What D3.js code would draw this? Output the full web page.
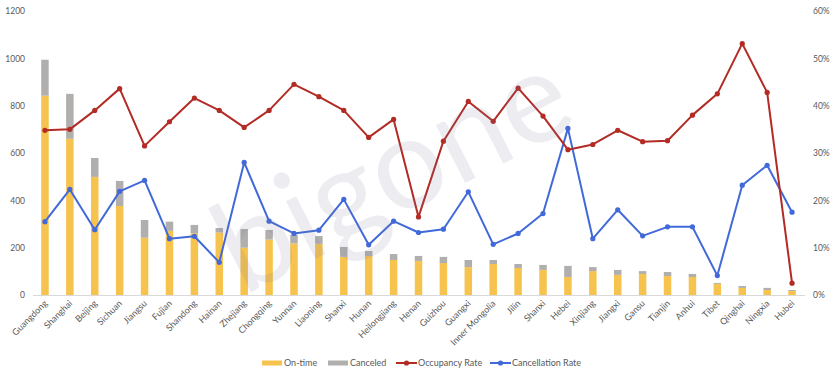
<!DOCTYPE html>
<html>
<head>
<meta charset="utf-8">
<script src="https://cdn.jsdelivr.net/npm/d3@7"></script>
<style>
  html, body { margin: 0; padding: 0; background: #fff; }
  svg { display: block; }
  text { font-family: Lato, "Open Sans", sans-serif; }
</style>
</head>
<body>
<svg id="chart" width="835" height="378"></svg>
<script>
const categories = ["Guangdong","Shanghai","Beijing","Sichuan","Jiangsu","Fujian","Shandong","Hainan","Zhejiang","Chongqing","Yunnan","Liaoning","Shanxi","Hunan","Heilongjiang","Henan","Guizhou","Guangxi","Inner Mongolia","Jilin","Shanxi","Hebei","Xinjiang","Jiangxi","Gansu","Tianjin","Anhui","Tibet","Qinghai","Ningxia","Hubei"];
const onTime   = [842,660,499,376,242,271,261,264,200,234,218,216,161,165,148,144,135,118,131,114,106,76,101,85,89,80,76,47,30,21,17];
const canceled = [152,190,80,106,75,39,35,19,79,41,36,33,42,21,25,21,26,30,17,17,21,47,17,21,12,17,13,4,8,9,4];
const occupancyRate    = [34.8,35.0,39.0,43.6,31.5,36.6,41.6,39.0,35.4,39.0,44.5,41.9,39.0,33.3,37.1,16.5,32.5,40.9,36.7,43.7,37.8,30.7,31.8,34.8,32.4,32.6,38.0,42.5,53.1,42.8,2.5];
const cancellationRate = [15.5,22.3,13.8,21.9,24.2,11.9,12.4,6.9,28.0,15.6,13.0,13.7,20.2,10.6,15.6,13.2,13.9,21.8,10.7,13.0,17.2,35.2,11.9,18.0,12.5,14.4,14.4,4.1,23.2,27.4,17.5];
const leftTicks  = [0,200,400,600,800,1000,1200];
const rightTicks = [0,10,20,30,40,50,60];
const legendLabels = ["On-time","Canceled","Occupancy Rate","Cancellation Rate"];

const colors = { onTime:"#F6C34F", canceled:"#B1AFAE", occ:"#B22B24", canc:"#4169D9", text:"#595959", axis:"#D9D9D9" };

const svg = d3.select("#chart");
const plotLeft = 32.5, plotRight = 804.5, plotTop = 11, plotBottom = 295;

const idx = d3.range(categories.length);
const x = d3.scaleBand().domain(idx).range([plotLeft, plotRight]);
const yL = d3.scaleLinear().domain([0,1200]).range([plotBottom, plotTop]);
const yR = d3.scaleLinear().domain([0,60]).range([plotBottom, plotTop]);
const barW = 7.5;
const cx = i => x(i) + x.bandwidth()/2;

// Bars
const g = svg.append("g");
g.selectAll("rect.on").data(idx).join("rect")
  .attr("x", i => cx(i) - barW/2).attr("width", barW)
  .attr("y", i => yL(onTime[i])).attr("height", i => yL(0) - yL(onTime[i]))
  .attr("fill", colors.onTime);
g.selectAll("rect.ca").data(idx).join("rect")
  .attr("x", i => cx(i) - barW/2).attr("width", barW)
  .attr("y", i => yL(onTime[i] + canceled[i])).attr("height", i => yL(onTime[i]) - yL(onTime[i] + canceled[i]))
  .attr("fill", colors.canceled);

// Axis line (bottom)
const xAxis = d3.axisBottom(x).tickSize(0).tickFormat(i => categories[i]);
const xg = svg.append("g").attr("transform", `translate(0,${plotBottom})`).call(xAxis);
xg.select(".domain").attr("stroke", colors.axis).attr("stroke-width", 1.2);
xg.selectAll("text")
  .attr("fill", colors.text).attr("font-size", "9px")
  .attr("text-anchor", "end")
  .attr("dy", null).attr("y", 0)
  .attr("transform", "translate(3,9) rotate(-45)");

// Left axis
const yLA = d3.axisLeft(yL).tickValues(leftTicks).tickSize(0).tickPadding(0).tickFormat(d3.format("d"));
const lg = svg.append("g").attr("transform", `translate(25,0)`).call(yLA);
lg.select(".domain").remove();
lg.selectAll("text").attr("fill", colors.text).attr("font-size", "8.5px").attr("x", 0);

// Right axis
const yRA = d3.axisRight(yR).tickValues(rightTicks).tickSize(0).tickPadding(0).tickFormat(d => d + "%");
const rg = svg.append("g").attr("transform", `translate(813,0)`).call(yRA);
rg.select(".domain").remove();
rg.selectAll("text").attr("fill", colors.text).attr("font-size", "8.5px").attr("x", 0);

// Lines
function drawLine(data, color) {
  const line = d3.line().x((d,i) => cx(i)).y(d => yR(d));
  svg.append("path").datum(data).attr("d", line)
    .attr("fill", "none").attr("stroke", color).attr("stroke-width", 2).attr("stroke-linejoin", "round");
  svg.append("g").selectAll("circle").data(data).join("circle")
    .attr("cx", (d,i) => cx(i)).attr("cy", d => yR(d)).attr("r", 2.6).attr("fill", color);
}
drawLine(cancellationRate, colors.canc);
drawLine(occupancyRate, colors.occ);

// Legend
const legendY = 363;
const leg = svg.append("g").attr("font-size", "9px");
const items = [
  {label: legendLabels[0], type:"rect", color: colors.onTime, x: 262},
  {label: legendLabels[1], type:"rect", color: colors.canceled, x: 328},
  {label: legendLabels[2], type:"line", color: colors.occ, x: 396},
  {label: legendLabels[3], type:"line", color: colors.canc, x: 490}
];
items.forEach(it => {
  if (it.type === "rect") {
    leg.append("rect").attr("x", it.x).attr("y", legendY - 2.5).attr("width", 20).attr("height", 5).attr("fill", it.color);
  } else {
    leg.append("line").attr("x1", it.x).attr("x2", it.x + 21).attr("y1", legendY).attr("y2", legendY)
      .attr("stroke", it.color).attr("stroke-width", 2);
    leg.append("circle").attr("cx", it.x + 10.5).attr("cy", legendY).attr("r", 2.6).attr("fill", it.color);
  }
  leg.append("text").attr("x", it.x + 22).attr("y", legendY).attr("dy", "0.35em")
    .attr("fill", colors.text).text(it.label);
});

// Watermark
svg.append("text").text("bigone")
  .attr("transform", "translate(412,210) rotate(-27)")
  .attr("text-anchor", "middle")
  .attr("font-size", "128px").attr("font-weight", 400)
  .attr("font-family", "'Open Sans', sans-serif")
  .attr("fill", "#7a7a9a").attr("fill-opacity", 0.14);
</script>
</body>
</html>
